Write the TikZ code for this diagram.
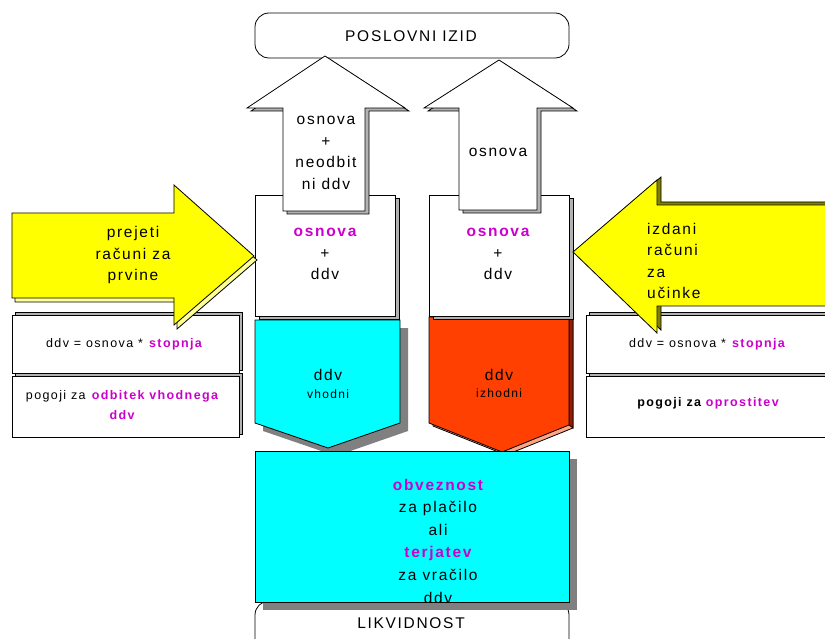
\documentclass[tikz,border=0pt]{standalone}
\usepackage{fontspec}
\setmainfont{Liberation Sans}[LetterSpace=11]
\definecolor{lila}{RGB}{204,0,204}
\definecolor{modra}{RGB}{0,255,255}
\definecolor{rdeca}{RGB}{255,64,0}
\definecolor{temnordeca}{RGB}{150,30,0}
\definecolor{losos}{RGB}{255,165,135}
\definecolor{rumena}{RGB}{255,255,0}
\definecolor{bledorumena}{RGB}{255,255,150}
\definecolor{olivna}{RGB}{128,128,0}
\newcommand{\poud}[1]{\textbf{\textcolor{lila}{#1}}}
\tikzset{
  lik/.style={
    draw=black,
    line width=0.8pt,
    line join=miter
  },
  rob/.style={lik, fill=gray!60},
  senca/.style={fill=gray},
  tekst/.style={align=center, inner sep=0pt, font=\fontsize{15.5}{21.5}\selectfont},
  drobno/.style={align=center, inner sep=0pt, font=\fontsize{12.5}{20}\selectfont}
}

\begin{document}
\begin{tikzpicture}[x=1pt,y=-1pt]
    \useasboundingbox (0,0) rectangle (825,639);
    % izid zgoraj, likvidnost spodaj
    \draw[lik, fill=white, rounded corners=14pt] (255,13) rectangle (569,58);
    \draw[lik, fill=white, rounded corners=14pt] (255,601) rectangle (569,665);
    % ddv vhodni / izhodni
    \fill[senca, shift={(8,8)}] (255,320) -- (400,320) -- (400,423) -- (328,448) -- (255,423) -- cycle;
    \draw[lik, fill=modra] (255,320) -- (400,320) -- (400,423) -- (328,448) -- (255,423) -- cycle;
    \draw[lik, fill=losos, shift={(4,3)}] (429,317) -- (569,317) -- (569,425) -- (502,452) -- (429,423) -- cycle;
    \draw[lik, fill=temnordeca] (569,317) -- (573,320) -- (573,428) -- (569,425) -- cycle;
    \draw[lik, fill=rdeca] (429,317) -- (569,317) -- (569,425) -- (502,452) -- (429,423) -- cycle;
    % obveznost / terjatev
    \fill[senca, shift={(8,8)}] (255,451) rectangle (569,602);
    \draw[lik, fill=modra] (255,451) rectangle (569,602);
    % osnova + ddv
    \draw[rob, shift={(4,3)}] (255,195) rectangle (395,316);
    \draw[lik, fill=white] (255,195) rectangle (395,316);
    \draw[rob, shift={(4,3)}] (429,195) rectangle (569,316);
    \draw[lik, fill=white] (429,195) rectangle (569,316);
    % puscici navzgor
    \draw[rob, shift={(4,3)}] (247,108) -- (325,56) -- (405,108) -- (365,108) -- (365,211) -- (283,211) -- (283,108) -- cycle;
    \draw[lik, fill=white] (247,108) -- (325,56) -- (405,108) -- (365,108) -- (365,211) -- (283,211) -- (283,108) -- cycle;
    \draw[rob, shift={(4,3)}] (424,108) -- (499,60) -- (573,108) -- (537,108) -- (537,210) -- (459,210) -- (459,108) -- cycle;
    \draw[lik, fill=white] (424,108) -- (499,60) -- (573,108) -- (537,108) -- (537,210) -- (459,210) -- (459,108) -- cycle;
    % okvirja levo
    \draw[rob, shift={(3,-3)}] (12,315) rectangle (239,373);
    \draw[lik, fill=white] (12,315) rectangle (239,373);
    \draw[rob, shift={(3,-3)}] (12,376) rectangle (239,437);
    \draw[lik, fill=white] (12,376) rectangle (239,437);
    % okvirja desno
    \draw[rob, shift={(3,-3)}] (586,315) rectangle (840,373);
    \draw[lik, fill=white] (586,315) rectangle (840,373);
    \draw[rob, shift={(3,-3)}] (586,376) rectangle (840,437);
    \draw[lik, fill=white] (586,376) rectangle (840,437);
    % rumeni puscici
    \draw[lik, fill=bledorumena, shift={(3,4)}] (12,213) -- (174,213) -- (174,185) -- (254,256) -- (174,325) -- (174,298) -- (12,298) -- cycle;
    \draw[lik, fill=rumena] (12,213) -- (174,213) -- (174,185) -- (254,256) -- (174,325) -- (174,298) -- (12,298) -- cycle;
    \draw[lik, fill=olivna, shift={(4,-3)}] (840,205) -- (657,205) -- (657,180) -- (573,252) -- (657,333) -- (657,306) -- (840,306) -- cycle;
    \draw[lik, fill=rumena] (840,205) -- (657,205) -- (657,180) -- (573,252) -- (657,333) -- (657,306) -- (840,306) -- cycle;

    % besedila
    \node[tekst] (izid) at (411,36) {POSLOVNI IZID};
    \node[tekst] (likvidnost) at (411,623) {LIKVIDNOST};
    \node[tekst] (neodbitni) at (326,153) {osnova\\+\\neodbit\\ni ddv};
    \node[tekst] (osnova) at (498,152) {osnova};
    \node[tekst] (vhodosnova) at (325,254) {\poud{osnova}\\+\\ddv};
    \node[tekst] (izhodosnova) at (498,254) {\poud{osnova}\\+\\ddv};
    \node[tekst] (vhodniddv) at (328,375) {ddv};
    \node[drobno, font=\fontsize{12}{14}\selectfont] (vhodni) at (328,394) {vhodni};
    \node[tekst] (izhodniddv) at (499,375) {ddv};
    \node[drobno, font=\fontsize{12}{14}\selectfont] (izhodni) at (499,393) {izhodni};
    \node[tekst] (prejeti) at (133,255) {prejeti\\računi za\\prvine};
    \node[tekst, align=left, anchor=west] (izdani) at (647,261) {izdani\\računi\\za\\učinke};
    \node[drobno] (levistopnja) at (124,344) {ddv = osnova * \poud{stopnja}};
    \node[drobno] (odbitek) at (122,405) {pogoji za \poud{odbitek vhodnega}\\\poud{ddv}};
    \node[drobno] (desnistopnja) at (707,344) {ddv = osnova * \poud{stopnja}};
    \node[drobno] (oprostitev) at (708,403) {\textbf{pogoji za \textcolor{lila}{oprostitev}}};
    \begin{scope}
        \clip (255,451) rectangle (569,602);
        \node[tekst, font=\fontsize{15.5}{22.6}\selectfont] (obveznost) at (438,541) {\poud{obveznost}\\za plačilo\\ali\\\poud{terjatev}\\za vračilo\\ddv};
    \end{scope}
\end{tikzpicture}
\end{document}
